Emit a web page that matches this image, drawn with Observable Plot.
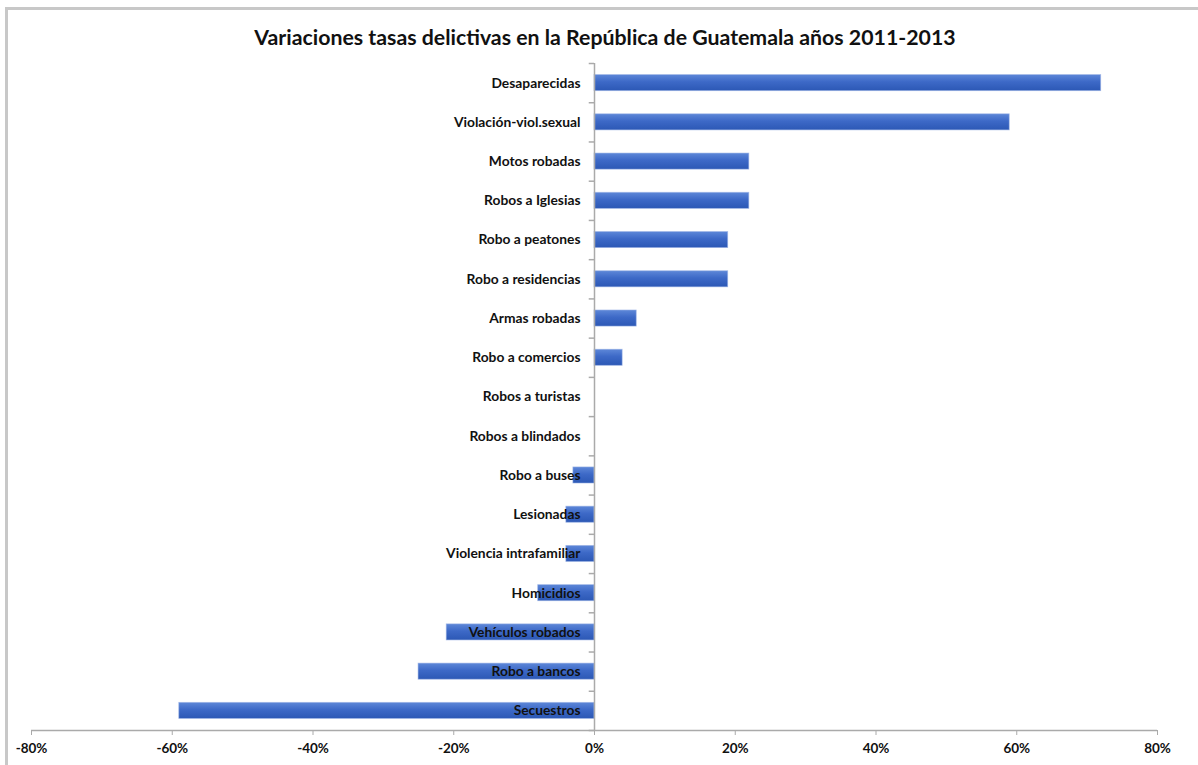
<!DOCTYPE html>
<html>
<head>
<meta charset="utf-8">
<script src="https://cdn.jsdelivr.net/npm/d3@7"></script>
<script src="https://cdn.jsdelivr.net/npm/@observablehq/plot@0.6"></script>
<style>
  html, body { margin: 0; padding: 0; background: #fff; }
  #wrap { position: relative; width: 1198px; height: 765px; overflow: hidden; font-family: Lato, "Open Sans", sans-serif; }
  #border { position: absolute; left: 5px; top: 7px; width: 1300px; height: 900px; border-top: 3px solid #c8c8c8; border-left: 3px solid #c8c8c8; }
  #title { position: absolute; left: 0; width: 1210px; top: 24px; text-align: center; font-size: 21.3px; font-weight: bold; color: #111; }
  #chart { position: absolute; left: 0; top: 0; }
</style>
</head>
<body>
<div id="wrap">
  <div id="border"></div>
  <div id="title">Variaciones tasas delictivas en la República de Guatemala años 2011-2013</div>
  <div id="chart"></div>
</div>
<script>
const categories = [
  "Desaparecidas", "Violación-viol.sexual", "Motos robadas", "Robos a Iglesias",
  "Robo a peatones", "Robo a residencias", "Armas robadas", "Robo a comercios",
  "Robos a turistas", "Robos a blindados", "Robo a buses", "Lesionadas",
  "Violencia intrafamiliar", "Homicidios", "Vehículos robados", "Robo a bancos", "Secuestros"
];
const values = [72, 59, 22, 22, 19, 19, 6, 4, 0, 0, -3, -4, -4, -8, -21, -25, -59];
const xTicks = [-80, -60, -40, -20, 0, 20, 40, 60, 80];

const data = categories.map((c, i) => ({cat: c, i, value: values[i]}));
const bounds = d3.range(categories.length + 1).map(i => i - 0.5);
const half = 0.205;

const plot = Plot.plot({
  width: 1198,
  height: 765,
  marginLeft: 31,
  marginRight: 41,
  marginTop: 63,
  marginBottom: 35,
  style: {fontFamily: "Lato, 'Open Sans', sans-serif", background: "transparent", overflow: "visible"},
  x: {domain: [-80, 80], ticks: xTicks, tickFormat: d => d + "%", label: null},
  y: {domain: [categories.length - 0.5, -0.5], axis: null},
  marks: [
    () => {
      const ns = "http://www.w3.org/2000/svg";
      const defs = document.createElementNS(ns, "defs");
      defs.innerHTML = `<linearGradient id="barGrad" x1="0" y1="0" x2="0" y2="1">
        <stop offset="0%" stop-color="#5d87d8"/>
        <stop offset="45%" stop-color="#3d69c7"/>
        <stop offset="100%" stop-color="#2c58b5"/>
      </linearGradient>`;
      return defs;
    },
    Plot.rectX(data, {
      x1: 0, x2: "value",
      y1: d => d.i - half, y2: d => d.i + half,
      fill: "url(#barGrad)", stroke: "#9db4e6", strokeWidth: 0.8, strokeOpacity: 0.7
    }),
    Plot.ruleY(bounds, {x1: -0.75, x2: 0, stroke: "#aaaaaa", strokeWidth: 1.5}),
    Plot.ruleX([0], {y1: -0.5, y2: categories.length - 0.5, stroke: "#aaaaaa", strokeWidth: 1.5}),
    Plot.ruleY([categories.length - 0.5], {x1: -80, x2: 80, stroke: "#aaaaaa", strokeWidth: 1.5}),
    Plot.axisX({ticks: xTicks, tickFormat: d => d + "%", tickSize: 5, tickPadding: 8, stroke: "#aaaaaa", fontSize: 13.5, fontWeight: "bold", fill: "#111", label: null}),
    Plot.text(data, {
      x: 0, y: "i", text: "cat", dx: -14, textAnchor: "end",
      fontSize: 13.8, fontWeight: "bold", fill: "#111"
    })
  ]
});
document.getElementById("chart").appendChild(plot);
</script>
</body>
</html>
